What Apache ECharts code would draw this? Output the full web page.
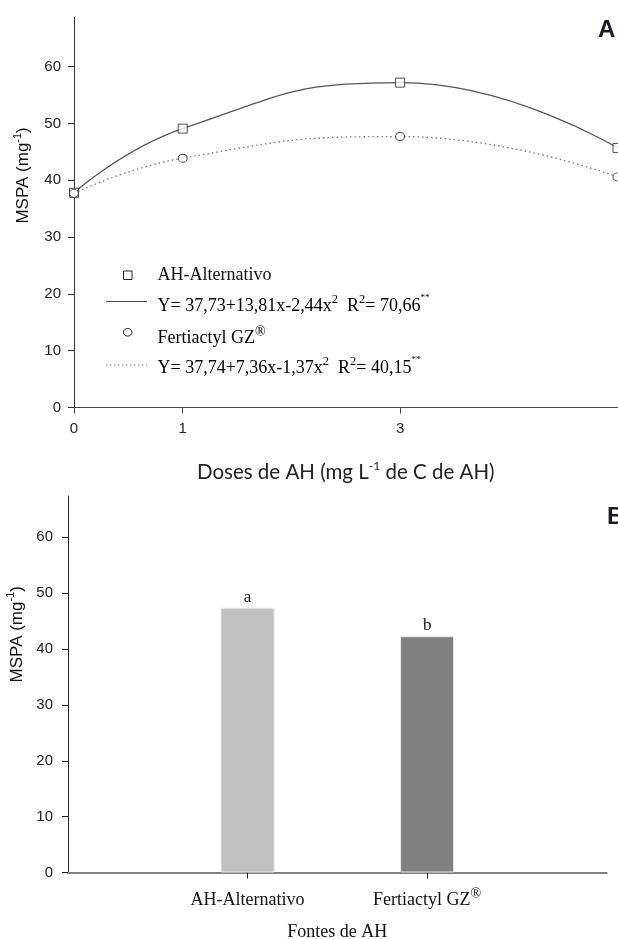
<!DOCTYPE html>
<html><head><meta charset="utf-8">
<script src="https://cdn.jsdelivr.net/npm/echarts@6/dist/echarts.min.js"></script>
<style>html,body{margin:0;padding:0;background:#fff}#c{width:618px;height:939px}</style>
</head><body><div id="c"></div>
<script>
// ---- data ----
const doses = [0, 1, 3, 5];
const mspaAlternativo = [37.8, 49.1, 57.2, 45.7];
const mspaFertiactyl = [37.7, 43.9, 47.7, 40.6];
const fontes = ['AH-Alternativo', 'Fertiactyl GZ®'];
const mspaFontes = [47.4, 42.3];
const letras = ['a', 'b'];
const yTickValues = [0, 10, 20, 30, 40, 50, 60];
const xTickValues = [0, 1, 3];

const pairs = (xs, ys) => xs.map((x, i) => [x, ys[i]]);
const serif = 'Liberation Serif';
const sans = 'Liberation Sans';
const supRich = {
  b: {fontFamily: serif, fontSize: 18, color: '#111', lineHeight: 22, verticalAlign: 'bottom'},
  s: {fontFamily: serif, fontSize: 12.5, color: '#111', lineHeight: 12, verticalAlign: 'top'},
  r: {fontFamily: serif, fontSize: 14, color: '#111', lineHeight: 12, verticalAlign: 'top'},
  ss: {fontFamily: serif, fontSize: 9, color: '#111', lineHeight: 9, verticalAlign: 'top'}
};
const nameRich = {
  b: {fontFamily: sans, fontSize: 17, color: '#111', lineHeight: 20, verticalAlign: 'bottom'},
  s: {fontFamily: sans, fontSize: 11, color: '#111', lineHeight: 11, verticalAlign: 'top'}
};

// categories padded so the two bars sit at 1/3 and 2/3 of the axis
const catAxis = [''].concat(fontes, ['']);
const barData = [null].concat(mspaFontes, [null]);

const chart = echarts.init(document.getElementById('c'), null, {renderer: 'canvas'});
chart.setOption({
  animation: false,
  backgroundColor: '#fff',
  title: [
    {text: 'A', left: 593, top: 13, textStyle: {fontFamily: sans, fontSize: 24, fontWeight: 'bold', color: '#1b1b2a'}},
    {text: 'B', left: 602, top: 500, textStyle: {fontFamily: sans, fontSize: 24, fontWeight: 'bold', color: '#1b1b2a'}}
  ],
  grid: [
    {left: 74, top: 17.3, width: 543.5, height: 390.2, outerBoundsMode: 'none', containLabel: false},
    {left: 68, top: 496, width: 538.7, height: 376.5, outerBoundsMode: 'none', containLabel: false}
  ],
  xAxis: [
    {
      gridIndex: 0, type: 'value', min: 0, max: 5,
      axisLine: {show: true, lineStyle: {color: '#444', width: 1.2}},
      axisTick: {show: true, length: 6, customValues: xTickValues, lineStyle: {color: '#444'}},
      axisLabel: {customValues: xTickValues, margin: 14, fontFamily: sans, fontSize: 15, color: '#222'},
      splitLine: {show: false},
      name: 'Doses de AH (mg L{s|-1} de C de AH)',
      nameLocation: 'middle', nameGap: 53,
      nameTextStyle: {rich: {
        s: {fontFamily: 'Lato', fontSize: 12, color: '#222', verticalAlign: 'top', lineHeight: 12}
      }, fontFamily: 'Lato', fontSize: 20.5, color: '#222', lineHeight: 23}
    },
    {
      gridIndex: 1, type: 'category', data: catAxis, boundaryGap: false,
      axisLine: {show: true, lineStyle: {color: '#808080', width: 2}},
      axisTick: {show: true, length: 6, interval: (i) => i === 1 || i === 2, lineStyle: {color: '#222'}},
      axisLabel: {
        interval: 0, margin: 15,
        formatter: (v) => v.indexOf('®') >= 0 ? '{b|' + v.replace('®', '') + '}{r|®}' : '{b|' + v + '}',
        rich: supRich, fontFamily: serif, fontSize: 18, color: '#111'
      },
      name: 'Fontes de AH', nameLocation: 'middle', nameGap: 51,
      nameTextStyle: {fontFamily: serif, fontSize: 18, color: '#111'}
    }
  ],
  yAxis: [
    {
      gridIndex: 0, type: 'value', min: 0, max: 68.7, interval: 10,
      axisLine: {show: true, lineStyle: {color: '#333', width: 1}},
      axisTick: {show: true, length: 6, customValues: yTickValues, lineStyle: {color: '#333'}},
      axisLabel: {customValues: yTickValues, margin: 13, fontFamily: sans, fontSize: 15, color: '#222'},
      splitLine: {show: false},
      name: '{b|MSPA (mg}{s|-1}{b|)}', nameLocation: 'middle', nameGap: 42,
      nameTextStyle: {rich: nameRich, padding: [0, 0, 0, 74]}
    },
    {
      gridIndex: 1, type: 'value', min: 0, max: 67.4, interval: 10,
      axisLine: {show: true, lineStyle: {color: '#222', width: 1}},
      axisTick: {show: true, length: 6, customValues: yTickValues, lineStyle: {color: '#222'}},
      axisLabel: {customValues: yTickValues, margin: 15, fontFamily: sans, fontSize: 15, color: '#222'},
      splitLine: {show: false},
      name: '{b|MSPA (mg}{s|-1}{b|)}', nameLocation: 'middle', nameGap: 36,
      nameTextStyle: {rich: nameRich, padding: [0, 0, 0, 100]}
    }
  ],
  series: [
    {
      name: 'Ajuste AH-Alternativo', type: 'line', xAxisIndex: 0, yAxisIndex: 0,
      data: pairs(doses, mspaAlternativo), smooth: 0.5, symbol: 'none',
      lineStyle: {color: '#555', width: 1.3}, z: 2
    },
    {
      name: 'Ajuste Fertiactyl GZ®', type: 'line', xAxisIndex: 0, yAxisIndex: 0,
      data: pairs(doses, mspaFertiactyl), smooth: 0.5, symbol: 'none',
      lineStyle: {color: '#777', width: 1.3, type: [1.5, 3]}, z: 2
    },
    {
      name: 'AH-Alternativo', type: 'scatter', xAxisIndex: 0, yAxisIndex: 0,
      data: pairs(doses, mspaAlternativo), symbol: 'rect', symbolSize: 9, clip: false,
      itemStyle: {color: '#fff', borderColor: '#222', borderWidth: 1}, z: 3
    },
    {
      name: 'Fertiactyl GZ®', type: 'scatter', xAxisIndex: 0, yAxisIndex: 0,
      data: pairs(doses, mspaFertiactyl), symbol: 'circle', symbolSize: [9, 8], clip: false,
      itemStyle: {color: '#fff', borderColor: '#222', borderWidth: 1}, z: 3
    },
    {
      name: 'Fontes de AH', type: 'bar', xAxisIndex: 1, yAxisIndex: 1,
      data: barData.map((v, i) => v === null ? null : {
        value: v,
        itemStyle: {color: i === 1 ? '#c0c0c0' : '#808080'},
        label: {formatter: letras[i - 1]}
      }),
      barWidth: 54,
      itemStyle: {borderColor: '#e8e8e8', borderWidth: 1},
      label: {show: true, position: 'top', distance: 2, fontFamily: serif, fontSize: 17, color: '#111'}
    }
  ],
  graphic: [
    {type: 'rect', shape: {x: 123.5, y: 271, width: 8.5, height: 8.5}, style: {fill: '#fff', stroke: '#222', lineWidth: 1}},
    {type: 'text', x: 157.5, y: 275.5, style: {text: 'AH-Alternativo', fontFamily: serif, fontSize: 18, fill: '#111', verticalAlign: 'middle'}},
    {type: 'line', shape: {x1: 106, y1: 301.5, x2: 147, y2: 301.5}, style: {stroke: '#444', lineWidth: 1}},
    {type: 'text', x: 157.5, y: 293.5, style: {
      text: '{b|Y= 37,73+13,81x-2,44x}{s|2}{b|  R}{s|2}{b|= 70,66}{ss|**}',
      rich: supRich, verticalAlign: 'top'}},
    {type: 'ellipse', shape: {cx: 127.7, cy: 332.3, rx: 4.3, ry: 3.8}, style: {fill: '#fff', stroke: '#222', lineWidth: 1}},
    {type: 'text', x: 157.5, y: 325, style: {
      text: '{b|Fertiactyl GZ}{r|®}', rich: supRich, verticalAlign: 'top'}},
    {type: 'line', shape: {x1: 106, y1: 365, x2: 147, y2: 365}, style: {stroke: '#888', lineWidth: 1, lineDash: [1.5, 2.5]}},
    {type: 'text', x: 157.5, y: 355, style: {
      text: '{b|Y= 37,74+7,36x-1,37x}{s|2}{b|  R}{s|2}{b|= 40,15}{ss|**}',
      rich: supRich, verticalAlign: 'top'}}
  ]
});
</script></body></html>
